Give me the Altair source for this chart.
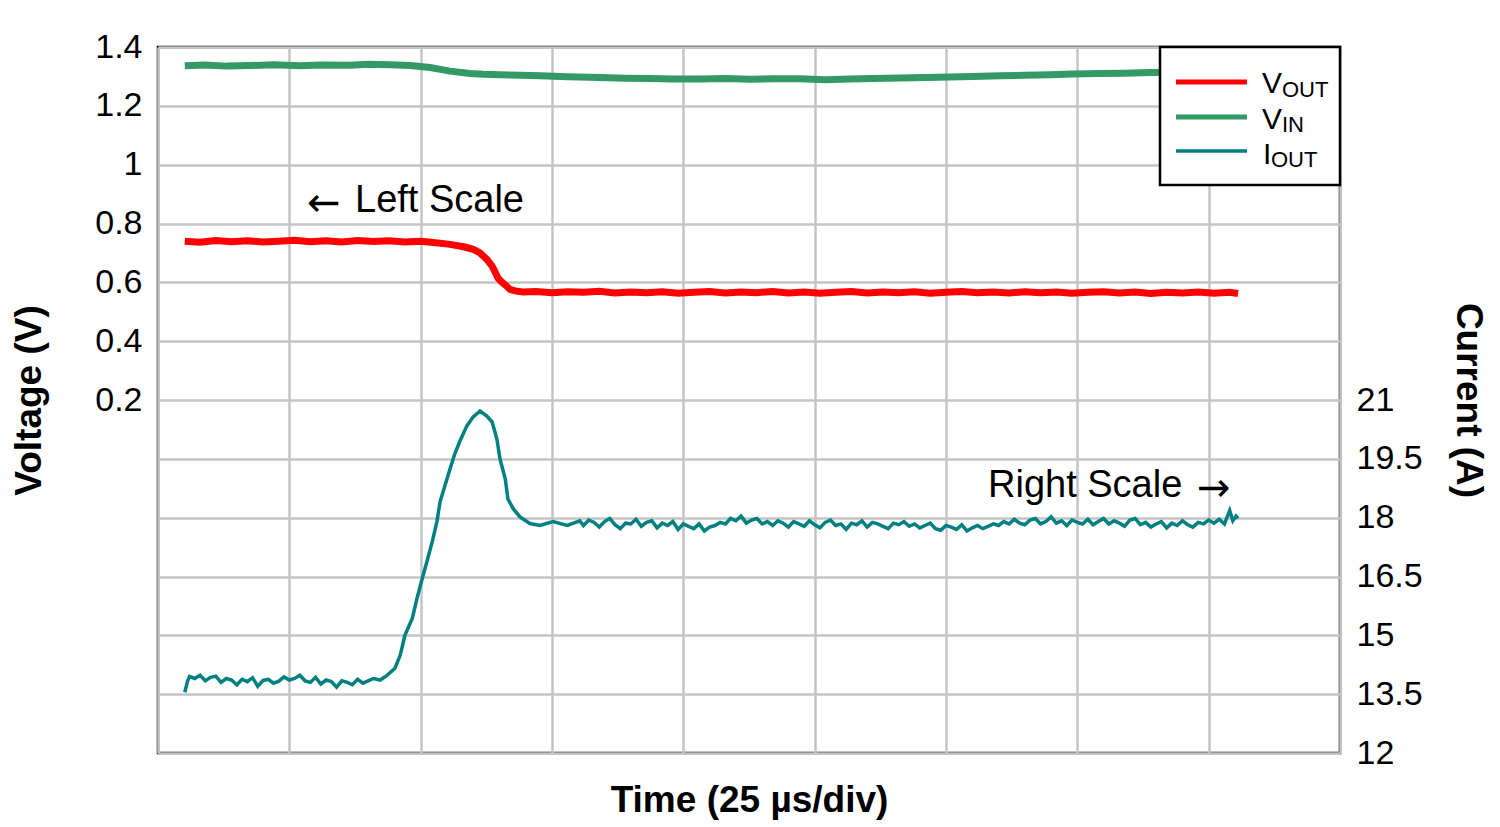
import altair as alt
import pandas as pd

FONT = "Liberation Sans"

# ---- data (time in µs, 25 µs/div) ----
vout_t = [5.1, 8, 11, 14, 17, 20, 23, 26, 29, 32, 35, 38, 41, 44, 47, 50, 52, 55.6, 58.4, 60.0,
          61.3, 62.6, 63.6, 64.2, 64.7, 65.5, 66.2, 67.0, 68.0, 69.5, 72, 75, 78, 81, 84, 87, 90,
          93, 96, 99, 102, 105, 108, 111, 114, 117, 120, 123, 126, 129, 132, 135, 138, 141, 144,
          147, 150, 153, 156, 159, 162, 165, 168, 171, 174, 177, 180, 183, 186, 189, 192, 195,
          198, 201, 204, 205.6]
vout_v = [0.740, 0.736, 0.742, 0.738, 0.741, 0.737, 0.740, 0.743, 0.738, 0.741, 0.737, 0.742,
          0.739, 0.741, 0.737, 0.740, 0.736, 0.729, 0.720, 0.712, 0.700, 0.678, 0.655, 0.634,
          0.615, 0.600, 0.590, 0.576, 0.571, 0.567, 0.569, 0.565, 0.568, 0.566, 0.570, 0.564,
          0.567, 0.565, 0.568, 0.563, 0.566, 0.569, 0.564, 0.567, 0.565, 0.569, 0.564, 0.567,
          0.563, 0.566, 0.569, 0.564, 0.567, 0.565, 0.568, 0.563, 0.566, 0.569, 0.565, 0.567,
          0.564, 0.568, 0.565, 0.567, 0.563, 0.566, 0.568, 0.564, 0.567, 0.562, 0.566, 0.564,
          0.567, 0.563, 0.566, 0.562]

vin_t = [5.1, 9, 13, 17.5, 22, 27, 31, 36.5, 40, 44.2, 48, 51.8, 55.6, 59.4, 62, 65.1, 69, 72.7,
         78, 84.1, 89, 93.7, 98, 103.2, 108, 112.7, 117, 122.2, 127, 131.7, 136, 141.2, 146,
         150.8, 155, 160.3, 165, 169.8, 174, 179.3, 184, 188.8, 193, 197, 201, 205.6]
vin_v = [1.336, 1.339, 1.335, 1.337, 1.340, 1.336, 1.339, 1.338, 1.341, 1.340, 1.337, 1.330,
         1.318, 1.310, 1.307, 1.306, 1.304, 1.302, 1.299, 1.296, 1.294, 1.293, 1.291, 1.291,
         1.293, 1.290, 1.292, 1.292, 1.289, 1.291, 1.293, 1.295, 1.296, 1.298, 1.300, 1.302,
         1.304, 1.306, 1.308, 1.310, 1.311, 1.313, 1.314, 1.313, 1.315, 1.315]

iout_t = [5.1, 5.6, 6, 7, 8, 9, 10, 11, 12, 13, 14, 15, 16, 17, 18, 19, 20, 21, 22, 23, 24, 25,
          26, 27, 28, 29, 30, 31, 32, 33, 34, 35, 36, 37, 38, 39, 40, 41,
          42.3, 43.6, 45.1, 46.1, 47.0, 48.4, 49.3, 50.3, 51.2, 52.2, 53.1, 53.7, 54.6, 55.6,
          56.5, 57.5, 58.8, 60.0, 61.3, 62.6, 63.6, 64.5, 65.1, 66.1, 66.6, 67.6, 68.9, 70.8,
          72.7, 75.2, 77.9, 80.3,
          81, 82, 83, 84, 85, 86, 87, 88, 89, 90, 91, 92, 93, 94, 95, 96, 97, 98, 99, 100,
          101, 102, 103, 104, 105, 106, 107, 108, 109, 110, 111, 112, 113, 114, 115, 116, 117,
          118, 119, 120, 121, 122, 123, 124, 125, 126, 127, 128, 129, 130, 131, 132, 133, 134,
          135, 136, 137, 138, 139, 140, 141, 142, 143, 144, 145, 146, 147, 148, 149, 150, 151,
          152, 153, 154, 155, 156, 157, 158, 159, 160, 161, 162, 163, 164, 165, 166, 167, 168,
          169, 170, 171, 172, 173, 174, 175, 176, 177, 178, 179, 180, 181, 182, 183, 184, 185,
          186, 187, 188, 189, 190, 191, 192, 193, 194, 195, 196, 197, 198, 199, 200, 201, 202,
          203, 204, 204.6, 205.2, 205.6]
iout_a = [13.55, 13.82, 13.95, 13.90, 13.98, 13.84, 13.93, 13.96, 13.80, 13.90, 13.86, 13.74,
          13.88, 13.82, 13.92, 13.70, 13.85, 13.88, 13.78, 13.83, 13.94, 13.86, 13.90, 13.98,
          13.84, 13.80, 13.93, 13.76, 13.86, 13.82, 13.68, 13.84, 13.80, 13.74, 13.88, 13.78,
          13.84, 13.90,
          13.86, 13.98, 14.16, 14.49, 15.00, 15.43, 15.94, 16.45, 16.88, 17.39, 17.90, 18.41,
          18.81, 19.25, 19.63, 19.96, 20.34, 20.57, 20.72, 20.59, 20.44, 20.01, 19.50, 18.99,
          18.48, 18.23, 18.02, 17.85, 17.80, 17.90, 17.80, 17.92,
          17.80, 17.94, 17.88, 17.76, 17.90, 17.98, 17.82, 17.72, 17.86, 17.84, 17.96, 17.78,
          17.88, 17.92, 17.74, 17.86, 17.80, 17.90, 17.70, 17.84,
          17.78, 17.72, 17.84, 17.66, 17.76, 17.80, 17.88, 17.84, 17.98, 17.92, 18.04, 17.86,
          17.94, 17.98, 17.84, 17.90, 17.80, 17.92, 17.86, 17.76,
          17.90, 17.84, 17.78, 17.92, 17.82, 17.74, 17.88, 17.94, 17.80, 17.84, 17.70, 17.86,
          17.82, 17.92, 17.76, 17.88, 17.84, 17.78, 17.72, 17.86,
          17.82, 17.90, 17.78, 17.84, 17.74, 17.80, 17.86, 17.72, 17.68, 17.80, 17.76, 17.70,
          17.82, 17.66, 17.74, 17.80, 17.72, 17.78, 17.84, 17.80,
          17.90, 17.84, 17.96, 17.86, 17.82, 17.94, 17.98, 17.84, 17.90, 18.02, 17.86, 17.92,
          17.80, 17.94, 17.88, 17.84, 17.96, 17.82, 17.90, 17.98,
          17.84, 17.92, 17.86, 17.78, 17.94, 17.98, 17.82, 17.88, 17.76, 17.84, 17.90, 17.74,
          17.86, 17.80, 17.92, 17.82, 17.76, 17.88, 17.84, 17.94,
          17.86, 17.96, 17.84, 18.18, 17.92, 18.04, 17.98]

x_ticks = [0, 25, 50, 75, 100, 125, 150, 175, 200, 225]
left_ticks = [-1.0, -0.8, -0.6, -0.4, -0.2, 0.0, 0.2, 0.4, 0.6, 0.8, 1.0, 1.2, 1.4]
right_ticks = [12, 13.5, 15, 16.5, 18, 19.5, 21]

GRID = "#c4c4c4"

x_enc = alt.X(
    "t:Q",
    scale=alt.Scale(domain=[0, 225], nice=False, zero=False),
    axis=alt.Axis(values=x_ticks, labels=False, ticks=False, domain=False, grid=True,
                  gridColor=GRID, gridWidth=2.5, title="Time (25 µs/div)", titleFont=FONT,
                  titleFontSize=37, titleFontWeight="bold", titleColor="black", titlePadding=29),
)

y_left = alt.Y(
    "v:Q",
    scale=alt.Scale(domain=[-1.0, 1.4], nice=False, zero=False),
    axis=alt.Axis(values=left_ticks, grid=True, gridColor=GRID, gridWidth=2.5, ticks=False,
                  domain=False,
                  labelExpr="datum.value > 0.1 ? format(datum.value, '.1~f') : ''",
                  labelFont=FONT, labelFontSize=34, labelColor="black", labelPadding=16,
                  title="Voltage (V)", titleFont=FONT, titleFontSize=37, titleFontWeight="bold",
                  titleColor="black", titlePadding=46),
)

y_right = alt.Y(
    "a:Q",
    scale=alt.Scale(domain=[12, 30], nice=False, zero=False),
    axis=alt.Axis(orient="right", values=right_ticks, grid=False, ticks=False, domain=False,
                  format=".1~f", labelFont=FONT, labelFontSize=34, labelColor="black",
                  labelPadding=16, title="Current (A)", titleFont=FONT, titleFontSize=37,
                  titleFontWeight="bold", titleColor="black", titlePadding=26),
)

vin = alt.Chart(pd.DataFrame({"t": vin_t, "v": vin_v})).mark_line(
    color="#339966", strokeWidth=7).encode(x=x_enc, y=y_left)
vout = alt.Chart(pd.DataFrame({"t": vout_t, "v": vout_v})).mark_line(
    color="#ff0000", strokeWidth=7).encode(x=x_enc, y=y_left)
left = alt.layer(vin, vout)

right = alt.Chart(pd.DataFrame({"t": iout_t, "a": iout_a})).mark_line(
    color="#008080", strokeWidth=3.5).encode(x=x_enc, y=y_right)

one = pd.DataFrame({"k": [0]})

def txt(s, x, y, size, align="left", baseline="alphabetic", font=FONT):
    return alt.Chart(one).mark_text(text=s, font=font, fontSize=size, color="black",
                                    align=align, baseline=baseline).encode(
        x=alt.value(x), y=alt.value(y))

legend_box = alt.Chart(one).mark_rect(fill="white", stroke="black", strokeWidth=2.5).encode(
    x=alt.value(1002), x2=alt.value(1182), y=alt.value(0), y2=alt.value(138))

def sample(color, y, w):
    return alt.Chart(one).mark_rule(color=color, strokeWidth=w).encode(
        x=alt.value(1018), x2=alt.value(1089), y=alt.value(y))

legend = [
    legend_box,
    sample("#ff0000", 35, 5), sample("#339966", 70, 5), sample("#008080", 104, 3.5),
    txt("V", 1104, 46, 30), txt("OUT", 1124, 50, 22),
    txt("V", 1104, 82, 30), txt("IN", 1124, 85, 22),
    txt("I", 1105, 117, 30), txt("OUT", 1113, 120, 22),
]

notes = [
    txt("←", 149, 157, 40, baseline="middle", font="DejaVu Sans"),
    txt("Left Scale", 197, 154, 38, baseline="middle"),
    txt("Right Scale", 830, 439, 38, baseline="middle"),
    txt("→", 1039, 442, 40, baseline="middle", font="DejaVu Sans"),
]

chart = alt.layer(left, right, *legend, *notes).resolve_scale(y="independent").properties(
    width=1182, height=706,
    autosize=alt.AutoSizeParams(type="none"),
    padding={"left": 150, "top": 39, "right": 152, "bottom": 72},
).configure_view(stroke="black", strokeWidth=2.5)

chart.save("out.html", embed_options={"renderer": "svg", "actions": False})
